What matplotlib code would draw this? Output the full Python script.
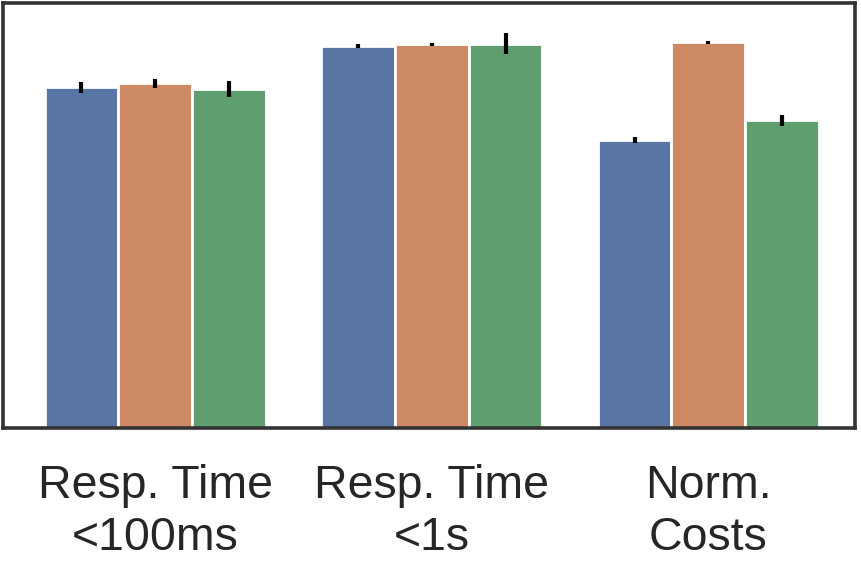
import matplotlib
matplotlib.use("Agg")
import matplotlib.pyplot as plt
import numpy as np


# data
categories = ["Resp. Time\n<100ms", "Resp. Time\n<1s", "Norm.\nCosts"]
series_names = ["A", "B", "C"]
values = {
	"A": [0.882, 0.990, 0.745],
	"B": [0.892, 0.993, 0.998],
	"C": [0.877, 0.995, 0.797],
}
errors = {
	"A": [0.014, 0.005, 0.008],
	"B": [0.011, 0.003, 0.003],
	"C": [0.021, 0.027, 0.014],
}
colors = ["#5975a4", "#cc8963", "#5f9e6e"]


def main():
	plt.rcParams['font.family'] = ['Liberation Sans', 'DejaVu Sans']

	fgr = plt.figure(figsize = (8.61, 5.62), dpi = 100)
	ax = fgr.add_axes([0.0035, 0.2384, 0.9895, 0.7561])

	x = np.arange(len(categories))
	width = 0.8 / len(series_names)

	for i, name in enumerate(series_names):
		offs = (i - 1) * width
		ax.bar(x + offs, values[name], width, color = colors[i],
			edgecolor = "white", linewidth = 2.0, zorder = 2)
		ax.errorbar(x + offs, values[name], yerr = errors[name], fmt = "none",
			ecolor = "black", elinewidth = 3.0, capsize = 0, zorder = 3)

	ax.set_xlim(-0.55, 2.53)
	ax.set_ylim(0, 1.1)
	ax.set_yticks([])
	ax.set_xticks(x)
	ax.set_xticklabels(categories, fontsize = 33.5, color = "#262626", linespacing = 1.24)
	ax.tick_params(axis = "x", length = 0, pad = 26)

	for s in ax.spines.values():
		s.set_color("#333333")
		s.set_linewidth(2.6)

	fgr.savefig("out.png", dpi = 100)


main()
